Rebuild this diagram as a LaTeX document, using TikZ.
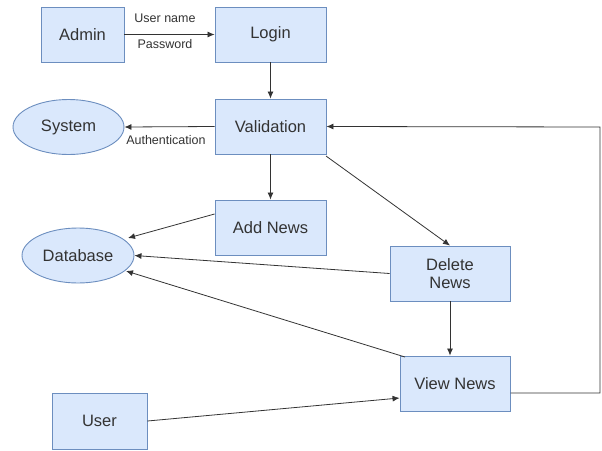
\documentclass[tikz,border=0pt]{standalone}
\usepackage{fontspec}
\setmainfont{Liberation Sans}
\usetikzlibrary{shapes.geometric,arrows.meta}
\definecolor{boxfill}{HTML}{DAE8FC}
\definecolor{boxline}{HTML}{6C8EBF}
\definecolor{txt}{HTML}{333333}
\begin{document}
\begin{tikzpicture}[x=1pt,y=-1pt,
  box/.style={draw=boxline,fill=boxfill,line width=0.9pt,text=txt,font=\fontsize{16.5}{18}\selectfont,align=center,inner sep=0pt},
  oval/.style={ellipse,draw=boxline,fill=boxfill,line width=0.9pt,text=txt,font=\fontsize{16.5}{18}\selectfont,inner sep=0pt},
  lbl/.style={text=txt,font=\fontsize{12.5}{14}\selectfont,inner sep=0pt},
  conn/.style={draw=black!80,line width=0.8pt,-{Latex[length=7pt,width=6pt]}}]
\useasboundingbox (0,0) rectangle (602,450);
\node[box,minimum width=83pt,minimum height=55pt] (admin) at (82.5,34.5) {Admin};
\node[box,minimum width=111pt,minimum height=55pt] (login) at (270.5,34.5) {Login};
\node[box,minimum width=111pt,minimum height=55pt] (valid) at (270.5,126.5) {Validation};
\node[oval,minimum width=111pt,minimum height=55pt] (system) at (68.5,127) {System};
\node[box,minimum width=111pt,minimum height=55pt] (add) at (270.5,227.5) {Add News};
\node[oval,minimum width=112pt,minimum height=55pt] (db) at (78,255.5) {Database};
\node[box,minimum width=120pt,minimum height=55pt] (del) at (450,273.5) {Delete\\News};
\node[box,minimum width=110pt,minimum height=55pt] (view) at (455,383.5) {View News};
\node[box,minimum width=95pt,minimum height=56pt] (user) at (99.5,421) {User};
\coordinate (c1) at (600,393);
\coordinate (c2) at (600,127);
\coordinate (vr) at (510.5,393);
\draw[conn] (admin.east) -- node[lbl,above=11pt,pos=0.45] {User name} node[lbl,below=5pt,pos=0.45] {Password} (login.west);
\draw[conn] (valid.west) -- node[lbl,below=8pt,pos=0.54] {Authentication} (system.east);
\draw[conn] (login.south) -- (valid.north);
\draw[conn] (valid.south) -- (add.north);
\draw[conn] (add.west |- 0,214) -- (128,238);
\draw[conn] (326,156) -- (del.north);
\draw[conn] (del.west) -- (db.east);
\draw[conn] (del.south) -- (view.north -| del.south);
\draw[conn] (405,357) -- (126,271);
\draw[conn] (user.east) -- (view.west |- 0,398);
\draw[conn] (vr) -- (c1) -- (c2) -- (valid.east);
\end{tikzpicture}
\end{document}
